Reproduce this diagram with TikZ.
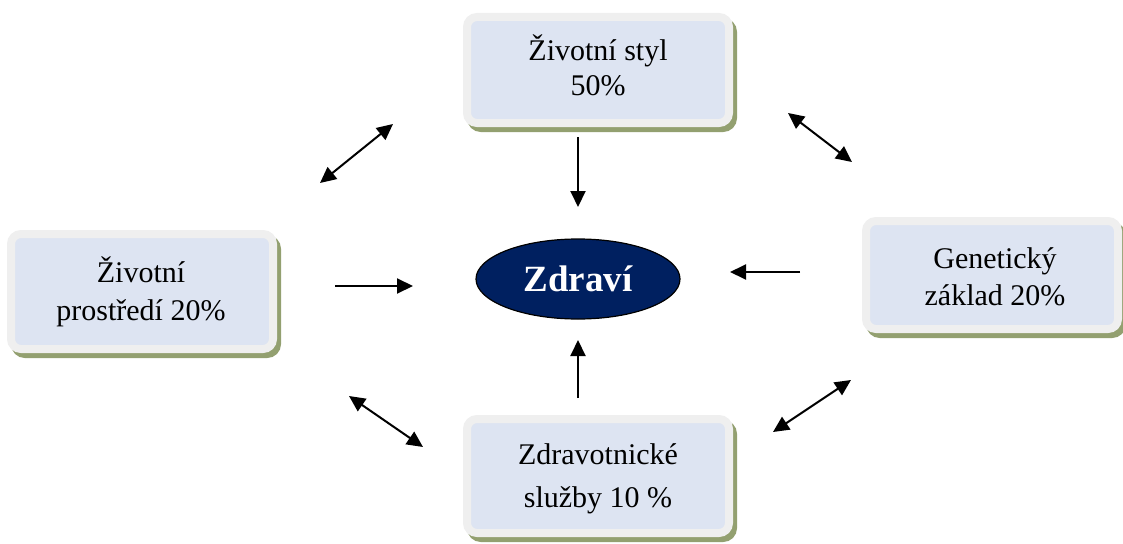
\documentclass[tikz,border=0pt]{standalone}
\usepackage{fontspec}
\setmainfont{Liberation Serif}
\usetikzlibrary{shapes.geometric,arrows.meta}
\definecolor{boxfill}{HTML}{DDE4F2}
\definecolor{boxrim}{HTML}{EFEFEF}
\definecolor{boxshadow}{HTML}{93A070}
\definecolor{navy}{HTML}{002060}
\begin{document}
\begin{tikzpicture}[x=1pt,y=-1pt,
  factor/.style={rectangle, rounded corners=10pt, fill=boxfill, draw=boxrim,
    line width=8pt, inner sep=0pt,
    preaction={draw=boxshadow, fill=boxshadow,
      transform canvas={xshift=4pt,yshift=-5pt}}},
  factortext/.style={anchor=base, align=center, inner sep=0pt},
  conn/.style={line width=2pt, -{Triangle[length=16pt,width=15pt]}},
  dconn/.style={line width=2pt, {Triangle[length=16pt,width=15pt]}-{Triangle[length=16pt,width=15pt]}}
]
\useasboundingbox (0,0) rectangle (1123,543);
% boxes
\node[factor, minimum width=262pt, minimum height=106pt] (styl) at (598,70) {};
\node[factor, minimum width=262pt, minimum height=115pt] (prostredi) at (142,291.5) {};
\node[factor, minimum width=252pt, minimum height=108pt] (genetika) at (992,275) {};
\node[factor, minimum width=262pt, minimum height=114pt] (sluzby) at (598,476) {};
% texts (base = baseline of the last line)
\node[factortext, font=\fontsize{30}{35}\selectfont] (stylT) at (598,95) {Životní styl\\50\%};
\node[factortext, font=\fontsize{30}{38}\selectfont] (prostrediT) at (141,320) {Životní\\prostředí 20\%};
\node[factortext, font=\fontsize{30}{37}\selectfont] (genetikaT) at (995,305) {Genetický\\základ 20\%};
\node[factortext, font=\fontsize{30}{43}\selectfont] (sluzbyT) at (598,507) {Zdravotnické\\služby 10 \%};
% centre
\node[ellipse, fill=navy, draw=black, line width=1.2pt, minimum width=204pt, minimum height=80pt,
  text=white, font=\fontsize{37}{40}\selectfont\bfseries] (zdravi) at (578,279) {Zdraví};
% connector end points
\coordinate (a1s) at (320,183); \coordinate (a1e) at (393,124);
\coordinate (a2s) at (788,113); \coordinate (a2e) at (852,162);
\coordinate (a3s) at (349,396); \coordinate (a3e) at (423,447);
\coordinate (a4s) at (851,380); \coordinate (a4e) at (773,432);
\coordinate (h1s) at (335,286); \coordinate (h1e) at (413,286);
\coordinate (h2s) at (800,272); \coordinate (h2e) at (730,272);
\coordinate (v1s) at (578,137); \coordinate (v1e) at (578,207);
\coordinate (v2s) at (578,398); \coordinate (v2e) at (578,340);
\draw[dconn] (a1s) -- (a1e);
\draw[dconn] (a2s) -- (a2e);
\draw[dconn] (a3s) -- (a3e);
\draw[dconn] (a4s) -- (a4e);
\draw[conn] (h1s) -- (h1e);
\draw[conn] (h2s) -- (h2e);
\draw[conn] (v1s) -- (v1e);
\draw[conn] (v2s) -- (v2e);
\end{tikzpicture}
\end{document}
